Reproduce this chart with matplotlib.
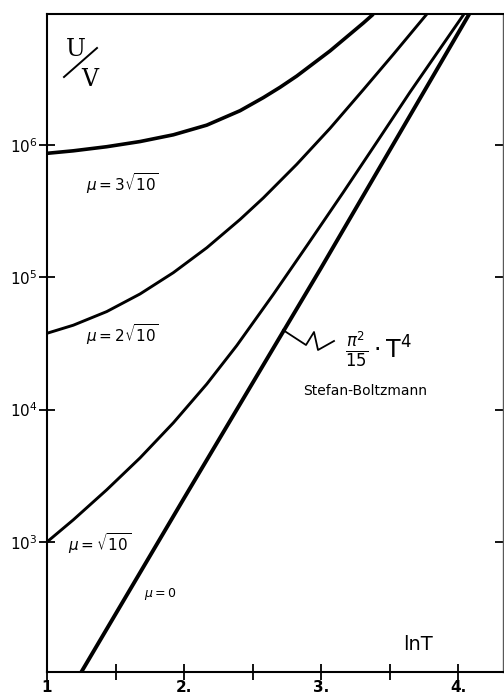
import numpy as np
import matplotlib
matplotlib.use("Agg")
import matplotlib.pyplot as plt

# values: x = ln T, y = log10(U/V)
x_mu3 = [1.0, 1.192, 1.436, 1.679, 1.922, 2.166, 2.409, 2.579, 2.701, 2.823, 3.066, 3.309, 3.382]
ly_mu3 = [5.937, 5.956, 5.987, 6.026, 6.077, 6.150, 6.259, 6.358, 6.436, 6.521, 6.711, 6.922, 6.989]

x_mu2 = [1.0, 1.192, 1.436, 1.679, 1.922, 2.166, 2.409, 2.579, 2.823, 3.066, 3.309, 3.528, 3.781]
ly_mu2 = [4.577, 4.638, 4.741, 4.874, 5.035, 5.223, 5.437, 5.600, 5.854, 6.126, 6.418, 6.685, 7.0]

x_mu1 = [1.0, 1.192, 1.436, 1.679, 1.922, 2.166, 2.385, 2.652, 2.905, 3.163, 3.407, 3.650, 4.064]
ly_mu1 = [3.0, 3.167, 3.394, 3.635, 3.900, 4.193, 4.484, 4.871, 5.251, 5.643, 6.021, 6.400, 7.02]

x_mu0 = [1.241, 2.0, 3.0, 4.088]
ly_mu0 = [2.0, 3.33, 5.07, 7.0]

curve_labels = [r"$\mu = 3\sqrt{10}$", r"$\mu = 2\sqrt{10}$", r"$\mu = \sqrt{10}$", r"$\mu = 0$"]
y_ticks = [1e3, 1e4, 1e5, 1e6]
y_ticklabels = [r"$10^3$", r"$10^4$", r"$10^5$", r"$10^6$"]
x_ticks = [1, 1.5, 2, 2.5, 3, 3.5, 4]
x_ticklabels = ["1", "", "2.", "", "3.", "", "4."]

fig = plt.figure(figsize=(5.04, 6.97), dpi=100)
ax = fig.add_axes([47 / 504, 1 - 672 / 697, 456 / 504, 658 / 697])

def px(x, y):
    # pixel of the picture -> axes fraction
    return (x - 47) / 456, (672 - y) / 658

for xs, ls, lw in [(x_mu3, ly_mu3, 2.6), (x_mu2, ly_mu2, 2.1),
                   (x_mu1, ly_mu1, 2.1), (x_mu0, ly_mu0, 2.8)]:
    ax.plot(xs, 10 ** np.array(ls), color="black", lw=lw,
            solid_capstyle="butt", solid_joinstyle="round")

ax.set_yscale("log")
ax.set_xlim(1, 1 + 456 / 137)
ax.set_ylim(10 ** 2.017, 10 ** 6.99)
ax.minorticks_off()

ax.set_yticks(y_ticks)
ax.set_yticklabels(y_ticklabels, fontsize=11)
ax.set_xticks(x_ticks)
ax.set_xticklabels(x_ticklabels, fontsize=11, fontweight="bold")
ax.tick_params(axis="both", direction="inout", length=12, width=1.3, pad=2)
ax.tick_params(axis="y", right=True, pad=1)
ax.tick_params(axis="x", pad=0)

for side in ["left", "bottom", "top"]:
    ax.spines[side].set_linewidth(1.5)
ax.spines["right"].set_linewidth(1.0)
ax.spines["right"].set_color("0.35")

# U/V label
ax.text(*px(76, 50), "U", transform=ax.transAxes, ha="center", va="center",
        fontsize=17, family="DejaVu Serif")
ax.text(*px(90, 80), "V", transform=ax.transAxes, ha="center", va="center",
        fontsize=17, family="DejaVu Serif")
sx0, sy0 = px(64, 77)
sx1, sy1 = px(97, 48)
ax.plot([sx0, sx1], [sy0, sy1], transform=ax.transAxes, color="black", lw=1.4)

# curve labels
label_pos = [(122, 184), (122, 335), (100, 544), (160, 594)]
label_size = [11, 11, 11, 9]
for lab, (lx, ly), fs in zip(curve_labels, label_pos, label_size):
    ax.text(*px(lx, ly), lab, transform=ax.transAxes, ha="center", va="center",
            fontsize=fs)

# Stefan-Boltzmann annotation
zz = np.array([(283, 330), (306, 345), (314, 332), (318, 350), (334, 341)], dtype=float)
zx, zy = px(zz[:, 0], zz[:, 1])
ax.plot(zx, zy, transform=ax.transAxes, color="black", lw=1.3)
ax.text(*px(378, 350), r"$\frac{\pi^2}{15}\cdot \mathrm{T}^4$", transform=ax.transAxes,
        ha="center", va="center", fontsize=17)
ax.text(*px(365, 391), "Stefan-Boltzmann", transform=ax.transAxes,
        ha="center", va="center", fontsize=10)

ax.text(*px(418, 645), "lnT", transform=ax.transAxes, ha="center", va="center",
        fontsize=14)

fig.savefig("out.png", dpi=100, facecolor="white")
